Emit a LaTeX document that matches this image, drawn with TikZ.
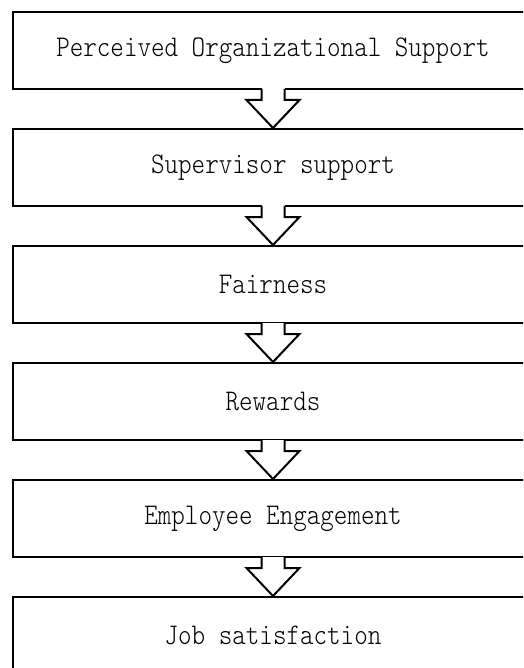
\documentclass[tikz,border=0pt]{standalone}
\usepackage{fontspec}
\usepackage{graphicx}
\usetikzlibrary{calc}
\newfontfamily\stagefont{lmmonolt10-regular.otf}
\tikzset{
  stagebox/.style={draw=black, line width=2pt, fill=white, minimum width=520pt,
    minimum height=77pt, inner sep=0pt, font=\fontsize{30}{32}\selectfont\stagefont},
  arrowline/.style={draw=black, line width=2pt, line join=miter},
}
\newcommand\stagelbl[1]{\scalebox{0.86}[1]{#1}}
\newcommand\blockarrow[2]{%
  \fill[white] ($(#1.south)+(-11.5,-1.5)$) rectangle ($(#1.south)+(11.5,10)$);
  \fill[white] ($(#1.south)+(-11.5,-1)$) -- ($(#1.south)+(-11.5,10)$) -- ($(#1.south)+(-26.5,10)$) -- (#2.north) -- ($(#1.south)+(26.5,10)$) -- ($(#1.south)+(11.5,10)$) -- ($(#1.south)+(11.5,-1)$) -- cycle;
  \path[arrowline] ($(#1.south)+(-11.5,-1)$) -- ($(#1.south)+(-11.5,10)$) -- ($(#1.south)+(-26.5,10)$) -- (#2.north) -- ($(#1.south)+(26.5,10)$) -- ($(#1.south)+(11.5,10)$) -- ($(#1.south)+(11.5,-1)$);
}
\begin{document}
\begin{tikzpicture}[x=1pt, y=-1pt]
\useasboundingbox (0,0) rectangle (523,668);
\clip (0,0) rectangle (523,668);
\fill[white] (0,0) rectangle (523,668);
\node[stagebox] (b1) at (273,50.5) {\stagelbl{Perceived Organizational Support}};
\node[stagebox] (b2) at (273,167.5) {\stagelbl{Supervisor support}};
\node[stagebox] (b3) at (273,284.5) {\stagelbl{Fairness}};
\node[stagebox] (b4) at (273,401.5) {\stagelbl{Rewards}};
\node[stagebox] (b5) at (273,518.5) {\stagelbl{Employee Engagement}};
\node[stagebox] (b6) at (273,635.5) {\stagelbl{Job satisfaction}};
\blockarrow{b1}{b2}
\blockarrow{b2}{b3}
\blockarrow{b3}{b4}
\blockarrow{b4}{b5}
\blockarrow{b5}{b6}
\end{tikzpicture}
\end{document}
